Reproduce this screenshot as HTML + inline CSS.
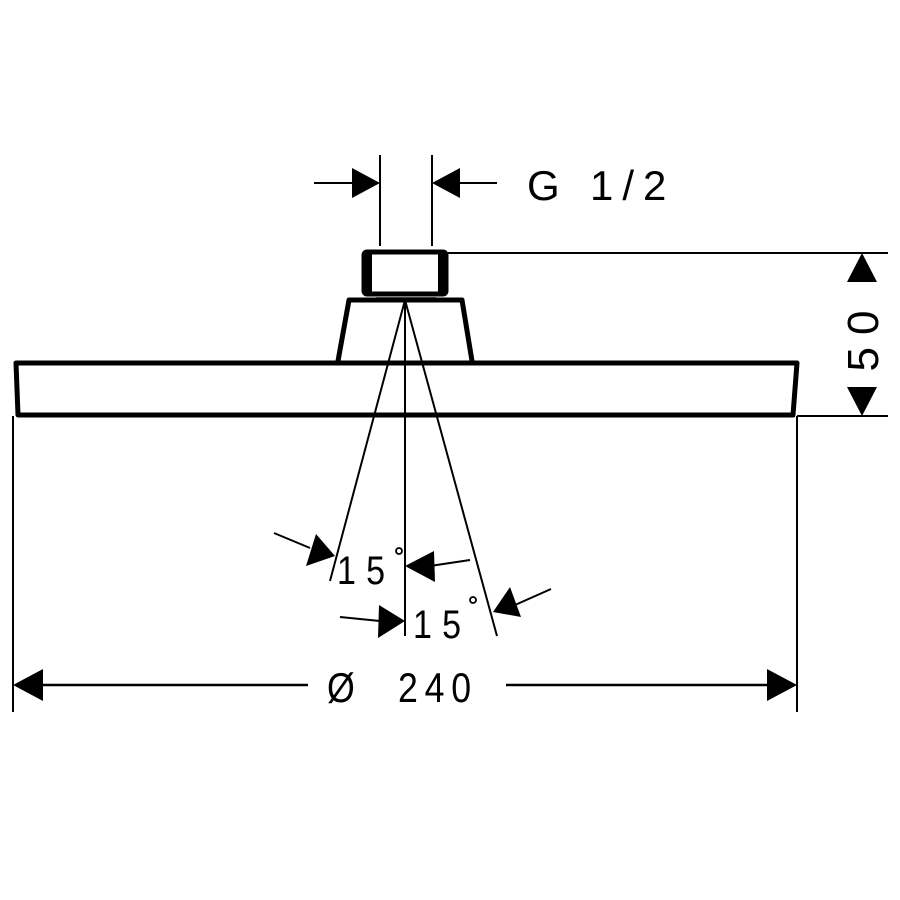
<!DOCTYPE html>
<html><head><style>body{margin:0;background:#fff}svg{display:block}</style></head><body>
<svg width="900" height="900" viewBox="0 0 900 900" xmlns="http://www.w3.org/2000/svg" font-family="Liberation Sans, DejaVu Sans, sans-serif">
<rect width="900" height="900" fill="#fff"/>
<g stroke="#000" fill="none">
<path d="M16 363 L797 363 L793 415 L18 415 Z" stroke-width="5" stroke-linejoin="round"/>
<path d="M338 361 L349 300 L462 300 L472 361" stroke-width="5" stroke-linejoin="round"/>
<rect x="364" y="252" width="82" height="42" stroke-width="5" rx="3"/>
<line x1="368" y1="254" x2="368" y2="292" stroke-width="8"/>
<line x1="442" y1="254" x2="442" y2="292" stroke-width="8"/>
<line x1="375" y1="295" x2="438" y2="295" stroke-width="1.5"/>
<line x1="376" y1="298" x2="436" y2="298" stroke-width="1.5"/>
<line x1="380" y1="155" x2="380" y2="246" stroke-width="2"/>
<line x1="432" y1="155" x2="432" y2="246" stroke-width="2"/>
<line x1="314" y1="183" x2="355" y2="183" stroke-width="2"/>
<line x1="457" y1="183" x2="497" y2="183" stroke-width="2"/>
<line x1="448" y1="253" x2="888" y2="253" stroke-width="2"/>
<line x1="797" y1="416" x2="888" y2="416" stroke-width="2"/>
<line x1="405" y1="300" x2="405" y2="636" stroke-width="2"/>
<line x1="405" y1="300" x2="330" y2="581" stroke-width="2"/>
<line x1="405" y1="300" x2="497" y2="636" stroke-width="2"/>
<line x1="274" y1="533" x2="310" y2="548" stroke-width="2"/>
<line x1="430" y1="566" x2="470" y2="560" stroke-width="2"/>
<line x1="340" y1="617" x2="380" y2="621" stroke-width="2"/>
<line x1="515" y1="605" x2="551" y2="589" stroke-width="2"/>
<line x1="13" y1="416" x2="13" y2="712" stroke-width="2"/>
<line x1="797" y1="416" x2="797" y2="712" stroke-width="2"/>
<line x1="35" y1="685" x2="308" y2="685" stroke-width="2.5"/>
<line x1="506" y1="685" x2="775" y2="685" stroke-width="2.5"/>
</g>
<g fill="#000">
<polygon points="380,183 352,168 352,198"/>
<polygon points="432,183 460,168 460,198"/>
<polygon points="862,253 847,282 877,282"/>
<polygon points="862,416 847,387 877,387"/>
<polygon points="13,685 43,669 43,701"/>
<polygon points="797,685 767,669 767,701"/>
<polygon points="335,556 306,566 316,534"/>
<polygon points="405,566 434,551 435,582"/>
<polygon points="405,621 378,638 379,605"/>
<polygon points="493,612 510,587 521,617"/>
</g>
<g font-size="42" fill="#000">
<text x="527" y="200">G</text>
<text x="590" y="200" letter-spacing="9">1/2</text>
<text transform="translate(878,335) rotate(-90)" text-anchor="middle" font-size="44" letter-spacing="12">50</text>
<text transform="translate(327,702) scale(0.85,1)">Ø</text>
<text transform="translate(398,702) scale(0.85,1)" letter-spacing="8">240</text>
<text transform="translate(337,584) scale(0.85,1)" font-size="40" letter-spacing="12">15</text>
<text transform="translate(413,638) scale(0.85,1)" font-size="40" letter-spacing="12">15</text>
</g>
<g stroke="#000" stroke-width="1.8" fill="none">
<circle cx="399" cy="551" r="3"/>
<circle cx="473" cy="600" r="3"/>
</g>
</svg>
</body></html>
